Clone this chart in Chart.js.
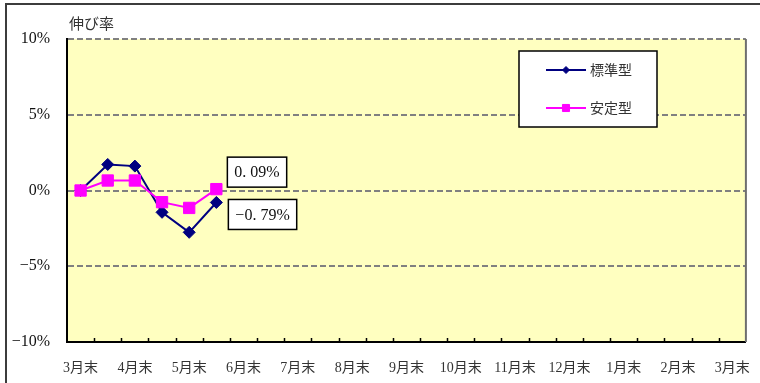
<!DOCTYPE html>
<html>
<head>
<meta charset="utf-8">
<script src="https://cdn.jsdelivr.net/npm/chart.js@4.4.0/dist/chart.umd.min.js"></script>
<style>
  html, body { margin: 0; padding: 0; background: #fff; }
  #wrap { position: relative; width: 760px; height: 383px; overflow: hidden; }
  #frame { position: absolute; left: 5px; top: 3px; width: 800px; height: 400px;
           border-left: 2px solid #3c3c3c; border-top: 2px solid #3c3c3c; }
  canvas { position: absolute; left: 0; top: 0; }
</style>
</head>
<body>
<div id="wrap">
  <div id="frame"></div>
  <canvas id="grafica" width="760" height="383"></canvas>
</div>
<script>
// 月末ラベル（間に月中の区切りが入る）
const monthLabels = ['3月末', '4月末', '5月末', '6月末', '7月末', '8月末', '9月末',
  '10月末', '11月末', '12月末', '1月末', '2月末', '3月末'];
const seriesNames = ['標準型', '安定型'];
const standardValues = [0, 1.72, 1.61, -1.44, -2.76, -0.79]; // %
const stableValues = [0, 0.66, 0.66, -0.77, -1.15, 0.09];    // %
const yTickValues = [-10, -5, 0, 5, 10];

const categories = monthLabels.flatMap((m, i) => (i < monthLabels.length - 1 ? [m, ''] : [m]));

const serif = '"Liberation Serif", "Noto Sans CJK JP", serif';
const gothic = '"Noto Sans CJK JP", sans-serif';

const navy = '#000080';
const magenta = '#ff00ff';

function pct(v) {
  return (v < 0 ? '−' : '') + Math.abs(v) + '%';
}
function pctLabel(v) {
  return (v < 0 ? '−' : '') + Math.abs(v).toFixed(2).replace('.', '. ') + '%';
}

function valueBox(ctx, text, x, yc) {
  ctx.font = '16px ' + serif;
  const w = ctx.measureText(text).width + 14;
  ctx.fillStyle = '#fff';
  ctx.fillRect(x, yc - 15, w, 30);
  ctx.strokeStyle = '#000';
  ctx.lineWidth = 1.5;
  ctx.strokeRect(x, yc - 15, w, 30);
  ctx.fillStyle = '#111';
  ctx.textAlign = 'left';
  ctx.textBaseline = 'middle';
  ctx.fillText(text, x + 7, yc + 1);
}

const decor = {
  id: 'decor',
  beforeDraw(chart) {
    const { ctx, chartArea: a } = chart;
    ctx.save();
    ctx.fillStyle = '#ffffc0';
    ctx.fillRect(a.left, a.top, a.right - a.left, a.bottom - a.top);
    ctx.restore();
  },
  afterDraw(chart) {
    const { ctx, chartArea: a } = chart;
    const xs = chart.scales.x;
    ctx.save();

    // 右枠
    ctx.strokeStyle = '#6e6e6e';
    ctx.lineWidth = 2;
    ctx.beginPath();
    ctx.moveTo(a.right, a.top);
    ctx.lineTo(a.right, a.bottom);
    ctx.stroke();

    // 内向きの目盛り（区切りごと）
    ctx.strokeStyle = '#000';
    ctx.lineWidth = 1.5;
    ctx.beginPath();
    for (let i = 1; i < categories.length; i++) {
      const x = Math.round((xs.getPixelForValue(i - 1) + xs.getPixelForValue(i)) / 2) + 0.5;
      ctx.moveTo(x, a.bottom);
      ctx.lineTo(x, a.bottom - 4);
    }
    ctx.stroke();

    // 縦軸の見出し
    ctx.fillStyle = '#333';
    ctx.font = '15px ' + gothic;
    ctx.textBaseline = 'middle';
    ctx.textAlign = 'left';
    ctx.fillText('伸び率', 69, 23);

    // 最新値のラベル
    const last = standardValues.length - 1;
    const pStd = chart.getDatasetMeta(0).data[last];
    const pStb = chart.getDatasetMeta(1).data[last];
    valueBox(ctx, pctLabel(stableValues[last]), pStb.x + 11, pStb.y - 17);
    valueBox(ctx, pctLabel(standardValues[last]), pStd.x + 12, pStd.y + 12);

    // 凡例
    const lx = a.left + 452, ly = a.top + 12;
    ctx.fillStyle = '#fff';
    ctx.fillRect(lx, ly, 138, 76);
    ctx.strokeStyle = '#000';
    ctx.lineWidth = 1.5;
    ctx.strokeRect(lx, ly, 138, 76);
    chart.data.datasets.forEach((ds, i) => {
      const y = ly + 19 + i * 38;
      ctx.strokeStyle = ds.borderColor;
      ctx.lineWidth = 2;
      ctx.beginPath();
      ctx.moveTo(lx + 27, y);
      ctx.lineTo(lx + 67, y);
      ctx.stroke();
      ctx.fillStyle = ds.pointBackgroundColor;
      ctx.strokeStyle = ds.pointBorderColor;
      ctx.lineWidth = 1;
      Chart.helpers.drawPoint(ctx, {
        pointStyle: ds.pointStyle,
        radius: ds.pointStyle === 'rect' ? 5 : 3.5,
        rotation: 0,
        borderWidth: 1,
      }, lx + 47, y);
      ctx.fillStyle = '#333';
      ctx.font = '14px ' + gothic;
      ctx.textBaseline = 'middle';
      ctx.textAlign = 'left';
      ctx.fillText(ds.label, lx + 71, y);
    });

    ctx.restore();
  },
};

const ctx = document.getElementById('grafica').getContext('2d');

new Chart(ctx, {
  type: 'line',
  data: {
    labels: categories,
    datasets: [
      {
        label: seriesNames[0],
        data: standardValues,
        borderColor: navy,
        borderWidth: 2,
        tension: 0,
        pointStyle: 'rectRot',
        pointRadius: 6,
        pointBorderWidth: 1,
        pointBackgroundColor: navy,
        pointBorderColor: navy,
        order: 1,
      },
      {
        label: seriesNames[1],
        data: stableValues,
        borderColor: magenta,
        borderWidth: 2,
        tension: 0,
        pointStyle: 'rect',
        pointRadius: 8,
        pointBorderWidth: 1,
        pointBackgroundColor: magenta,
        pointBorderColor: magenta,
        order: 0,
      },
    ],
  },
  options: {
    responsive: false,
    animation: false,
    devicePixelRatio: 1,
    layout: { padding: { left: 0, top: 39, right: 6, bottom: 0 } },
    plugins: {
      legend: { display: false },
      tooltip: { enabled: false },
    },
    scales: {
      x: {
        offset: true,
        afterFit: (s) => { s.height = 41; },
        grid: { display: false },
        border: { display: true, color: '#000', width: 2 },
        ticks: {
          autoSkip: false,
          maxRotation: 0,
          padding: 10,
          color: '#333',
          font: { family: serif, size: 14 },
          callback: (v, i) => categories[i],
        },
      },
      y: {
        min: -10,
        max: 10,
        afterFit: (s) => { s.width = 67; },
        afterBuildTicks: (s) => { s.ticks = yTickValues.map((v) => ({ value: v })); },
        grid: {
          color: '#808080',
          lineWidth: 2,
          drawTicks: false,
        },
        border: { display: true, color: '#000', width: 2, dash: [6, 3] },
        ticks: {
          padding: 17,
          color: '#111',
          font: { family: serif, size: 16 },
          callback: (v) => pct(v),
        },
      },
    },
  },
  plugins: [decor],
});
</script>
</body>
</html>
